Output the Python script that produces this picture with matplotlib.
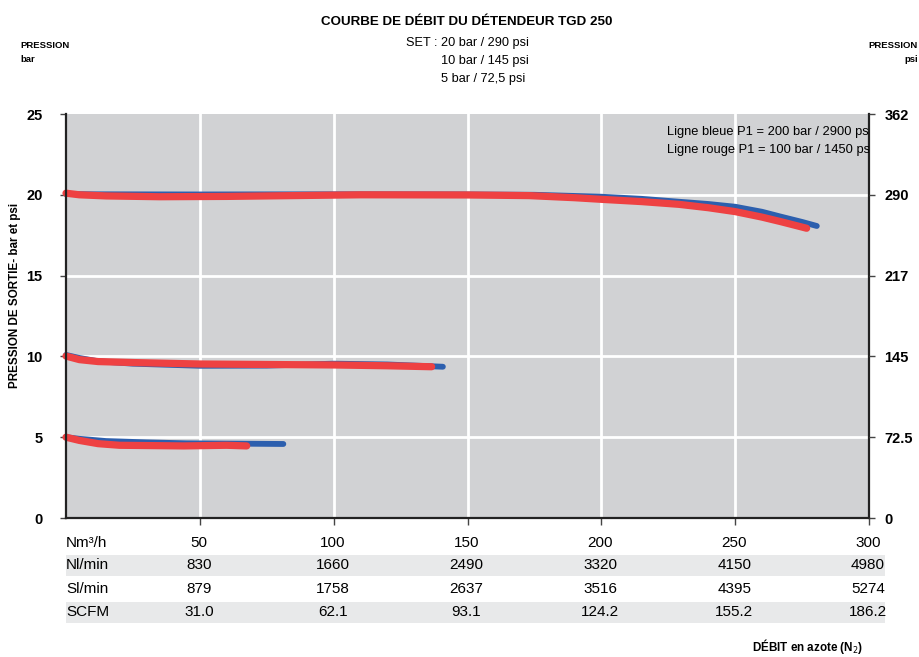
import matplotlib
matplotlib.use("Agg")
import matplotlib.pyplot as plt
import matplotlib.transforms as mtransforms
from matplotlib.patches import Rectangle

plt.rcParams['font.family'] = ['Liberation Sans', 'DejaVu Sans']

# ----------- Data -----------
blue_20_x = [0, 10, 50, 100, 150, 175, 200, 215, 229, 240, 250, 260, 267, 275, 280.5]
blue_20_y = [20.05, 20.03, 20.02, 20.03, 20.02, 20.0, 19.88, 19.75, 19.57, 19.43, 19.26, 18.95, 18.65, 18.32, 18.07]
red_20_x = [0, 5, 15, 35, 60, 110, 150, 173, 190, 200, 215, 229, 240, 250, 260, 267, 276.7]
red_20_y = [20.1, 20.0, 19.93, 19.88, 19.9, 20.0, 19.99, 19.95, 19.82, 19.72, 19.58, 19.41, 19.2, 18.96, 18.62, 18.34, 17.93]

blue_10_x = [0, 5, 12, 25, 50, 75, 100, 120, 140.8]
blue_10_y = [10.09, 9.9, 9.7, 9.55, 9.42, 9.43, 9.55, 9.5, 9.36]
red_10_x = [0, 5, 12, 25, 50, 100, 120, 136.6]
red_10_y = [10.02, 9.8, 9.68, 9.62, 9.53, 9.47, 9.42, 9.36]

blue_5_x = [0, 5, 15, 30, 45, 65, 81.2]
blue_5_y = [5.0, 4.9, 4.76, 4.68, 4.62, 4.6, 4.58]
red_5_x = [0, 5, 12, 20, 44, 60, 67.5]
red_5_y = [5.0, 4.8, 4.6, 4.5, 4.46, 4.5, 4.46]

flow_ticks = [50, 100, 150, 200, 250, 300]
row_labels = ["Nm³/h", "Nl/min", "Sl/min", "SCFM"]
row_values = [
    ["50", "100", "150", "200", "250", "300"],
    ["830", "1660", "2490", "3320", "4150", "4980"],
    ["879", "1758", "2637", "3516", "4395", "5274"],
    ["31.0", "62.1", "93.1", "124.2", "155.2", "186.2"],
]
bar_ticks = [0, 5, 10, 15, 20, 25]
psi_labels = ["0", "72.5", "145", "217", "290", "362"]

BLUE = "#2c5fae"
RED = "#ee4142"

fig = plt.figure(figsize=(9.19, 6.57), dpi=100)
ax = fig.add_axes([66 / 919, 1 - 518 / 657, 803 / 919, 404 / 657])
ax.set_facecolor("#d1d2d4")
ax.set_xlim(0, 300)
ax.set_ylim(0, 25)

# grid
for xv in flow_ticks[:-1]:
    ax.axvline(xv, color="white", lw=2, zorder=1)
for yv in bar_ticks[1:-1]:
    ax.axhline(yv, color="white", lw=2, zorder=1)

# curves
for (bx, by) in [(blue_20_x, blue_20_y), (blue_10_x, blue_10_y), (blue_5_x, blue_5_y)]:
    ax.plot(bx, by, color=BLUE, lw=4.2, solid_capstyle="round", solid_joinstyle="round",
            zorder=3, clip_on=False)
for (rx, ry) in [(red_20_x, red_20_y), (red_10_x, red_10_y), (red_5_x, red_5_y)]:
    ax.plot(rx, ry, color=RED, lw=5.2, solid_capstyle="round", solid_joinstyle="round",
            zorder=4, clip_on=False)

# spines / ticks
for side in ["left", "right", "bottom"]:
    ax.spines[side].set_color("#222222")
    ax.spines[side].set_linewidth(1.6)
ax.spines["top"].set_visible(False)
ax.spines["left"].set_zorder(5)

ax.set_xticks(flow_ticks)
ax.set_xticklabels([])
ax.tick_params(axis="x", direction="out", length=5, color="#444444", width=1)
ax.set_yticks(bar_ticks)
ax.set_yticklabels([str(v) for v in bar_ticks], fontweight="bold", fontsize=10.5)
ax.tick_params(axis="y", direction="out", length=4, color="#444444", width=1, pad=13)

ax2 = ax.twinx()
ax2.set_ylim(0, 25)
ax2.set_yticks(bar_ticks)
ax2.set_yticklabels(psi_labels, fontweight="bold", fontsize=10.5)
ax2.tick_params(axis="y", direction="out", length=4, color="#444444", width=1, pad=7)
for side in ["left", "right", "bottom", "top"]:
    ax2.spines[side].set_visible(False)

# legend text inside plot
ax.text(0.748, 0.955, "Ligne bleue P1 = 200 bar / 2900 psi", transform=ax.transAxes,
        fontsize=9.3, ha="left", va="center", clip_on=True, zorder=6)
ax.text(0.748, 0.91, "Ligne rouge P1 = 100 bar / 1450 psi", transform=ax.transAxes,
        fontsize=9.3, ha="left", va="center", clip_on=True, zorder=6)

# table below the axis
trans = mtransforms.blended_transform_factory(ax.transData, fig.transFigure)
trans = mtransforms.offset_copy(trans, fig=fig, x=-1, y=0, units="dots")
row_y = [543, 565, 589, 612]
for i, (label, vals) in enumerate(zip(row_labels, row_values)):
    yf = 1 - row_y[i] / 657
    if i % 2 == 1:
        fig.patches.append(Rectangle((66 / 919, 1 - (row_y[i] + 10.5) / 657), (885 - 66) / 919,
                                     21 / 657, transform=fig.transFigure,
                                     facecolor="#e8e9ea", edgecolor="none", zorder=0))
    fig.text(66 / 919, yf, label, fontsize=11, ha="left", va="center")
    for xv, s in zip(flow_ticks, vals):
        fig.text(xv, yf, s, fontsize=11, ha="center", va="center", transform=trans)

# titles and labels
fig.text(467 / 919, 1 - 22 / 657, "COURBE DE DÉBIT DU DÉTENDEUR TGD 250", fontsize=9.6,
         fontweight="bold", ha="center", va="center")
fig.text(529 / 919, 1 - 43 / 657, "SET : 20 bar / 290 psi", fontsize=9.2, ha="right", va="center")
fig.text(529 / 919, 1 - 61 / 657, "10 bar / 145 psi", fontsize=9.2, ha="right", va="center")
fig.text(525 / 919, 1 - 79 / 657, "5 bar / 72,5 psi", fontsize=9.2, ha="right", va="center")
fig.text(20 / 919, 1 - 45 / 657, "PRESSION", fontsize=6.8, fontweight="bold", ha="left", va="center")
fig.text(20 / 919, 1 - 59 / 657, "bar", fontsize=6.8, fontweight="bold", ha="left", va="center")
fig.text(918 / 919, 1 - 45 / 657, "PRESSION", fontsize=6.8, fontweight="bold", ha="right", va="center")
fig.text(918 / 919, 1 - 59 / 657, "psi", fontsize=6.8, fontweight="bold", ha="right", va="center")
fig.text(15 / 919, 1 - 295 / 657, "PRESSION DE SORTIE- bar et psi", fontsize=8.4, fontweight="bold",
         rotation=90, ha="center", va="center")
fig.text(863 / 919, 1 - 646 / 657, "DÉBIT en azote (N$_2$)", fontsize=8.4, fontweight="bold",
         ha="right", va="center")

fig.savefig("out.png", dpi=100)
